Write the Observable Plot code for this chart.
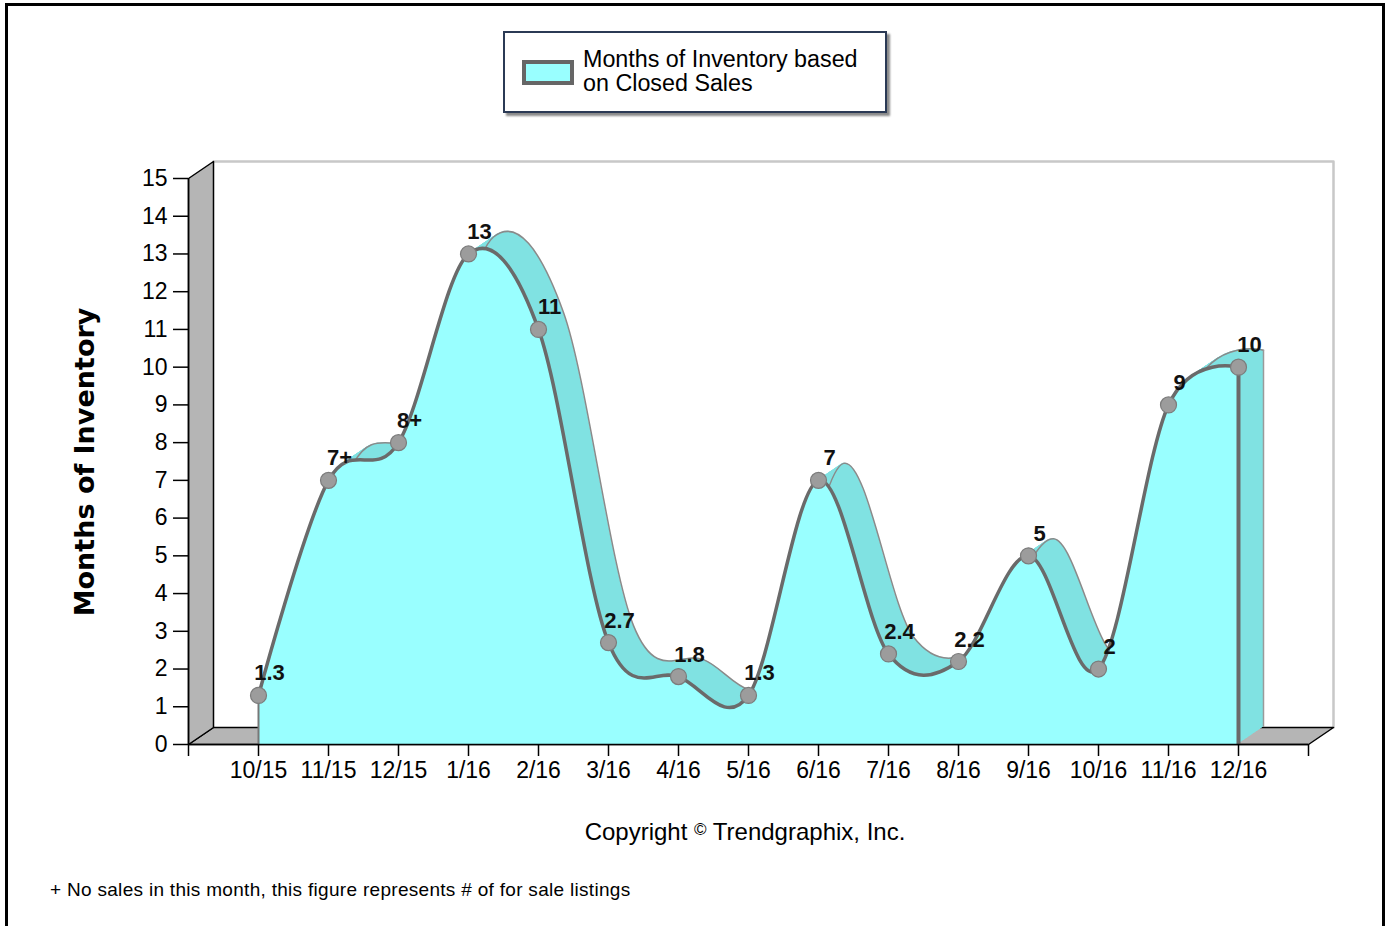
<!DOCTYPE html>
<html>
<head>
<meta charset="utf-8">
<script src="https://cdn.jsdelivr.net/npm/d3@7"></script>
<script src="https://cdn.jsdelivr.net/npm/@observablehq/plot@0.6"></script>
<style>
  html, body { margin: 0; padding: 0; background: #fff; }
  #wrap { position: relative; width: 1385px; height: 926px; overflow: hidden; background: #fff; font-family: "Liberation Sans", Arial, sans-serif; color: #000; }
  #chart { position: absolute; left: 0; top: 0; }
  .abs { position: absolute; white-space: nowrap; }
  #frame { position: absolute; left: 5px; top: 3px; width: 1380px; height: 940px; box-sizing: border-box; border: 3px solid #000; border-bottom: none; pointer-events: none; }
  #legend { left: 503px; top: 31px; width: 384px; height: 82px; box-sizing: border-box; border: 2px solid #2b3a55; box-shadow: 3px 3px 2px #8a8a8a; background: #fff; }
  #swatch { left: 522px; top: 60px; width: 52px; height: 25px; box-sizing: border-box; border: 4px solid #666; background: #99FFFF; }
  #legtext { left: 583px; top: 47px; font-size: 23.3px; line-height: 24px; }
  #ytitle { left: 84px; top: 462px; transform: translate(-50%, -50%) rotate(-90deg); font: bold 27px "DejaVu Sans", Verdana, sans-serif; }
  #copy { left: 745px; top: 818px; transform: translateX(-50%); font-size: 24px; line-height: 24px; }
  #note { left: 50px; top: 880px; font-size: 19px; line-height: 19px; letter-spacing: 0.3px; }
</style>
</head>
<body>
<div id="wrap">
  <div id="chart"></div>
  <div id="legend" class="abs"></div>
  <div id="swatch" class="abs"></div>
  <div id="legtext" class="abs">Months of Inventory based<br>on Closed Sales</div>
  <div id="ytitle" class="abs">Months of Inventory</div>
  <div id="copy" class="abs">Copyright <span style="font-size:17px;vertical-align:5px">©</span> Trendgraphix, Inc.</div>
  <div id="note" class="abs">+ No sales in this month, this figure represents # of for sale listings</div>
  <div id="frame"></div>
</div>
<script>
// ---- data ----
const months = ["10/15","11/15","12/15","1/16","2/16","3/16","4/16","5/16","6/16","7/16","8/16","9/16","10/16","11/16","12/16"];
const values = [1.3, 7, 8, 13, 11, 2.7, 1.8, 1.3, 7, 2.4, 2.2, 5, 2, 9, 10];
const pointLabels = ["1.3","7+","8+","13","11","2.7","1.8","1.3","7","2.4","2.2","5","2","9","10"];
const yTicks = [0,1,2,3,4,5,6,7,8,9,10,11,12,13,14,15];

const data = months.map((m, i) => ({i, m, v: values[i], label: pointLabels[i]}));

// ---- layout / style ----
const W = 1385, H = 926;
const mL = 188, mR = 77, mT = 178, mB = 182;
const xDom = [-1, 15], yDom = [0, 15];
const depthX = 25, depthY = 17; // 3D depth in px
const xUnit = (W - mL - mR) / (xDom[1] - xDom[0]);
const yUnit = (H - mT - mB) / (yDom[1] - yDom[0]);
const dX = depthX / xUnit, dY = depthY / yUnit;

const x0 = xDom[0], x1 = xDom[1], yTop = yDom[1];
const leftWall = [
  {x: x0, y: 0}, {x: x0 + dX, y: dY}, {x: x0 + dX, y: yTop + dY}, {x: x0, y: yTop}, {x: x0, y: 0}
];
const floor = [
  {x: x0, y: 0}, {x: x1, y: 0}, {x: x1 + dX, y: dY}, {x: x0 + dX, y: dY}, {x: x0, y: 0}
];
const backTop = [{x: x0 + dX, y: yTop + dY}, {x: x1 + dX, y: yTop + dY}, {x: x1 + dX, y: dY}];

const curve = "cardinal";
const ribbonSteps = d3.range(1, 26).map(k => k / 25);
const last = data[data.length - 1];
const first = data[0];

const marks = [
  Plot.line(backTop, {x: "x", y: "y", stroke: "#c8c8c8", strokeWidth: 2.5}),
  Plot.line(floor, {x: "x", y: "y", fill: "#b5b5b5", stroke: "#000", strokeWidth: 1.5}),
  Plot.line(leftWall, {x: "x", y: "y", fill: "#b5b5b5", stroke: "#000", strokeWidth: 1.5}),
  // 3D ribbon
  ...ribbonSteps.map(t => Plot.areaY(data, {x: "i", y: "v", curve, fill: "#80E2E2", dx: depthX * t, dy: -depthY * t})),
  Plot.line(data, {x: "i", y: "v", curve, stroke: "#8a8a8a", strokeWidth: 1.5, dx: depthX, dy: -depthY}),
  Plot.ruleX([last], {x: "i", y1: 0, y2: "v", stroke: "#9a9a9a", strokeWidth: 1.5, dx: depthX, dy: -depthY}),
  // front face
  Plot.areaY(data, {x: "i", y: "v", curve, fill: "#99FFFF"}),
  Plot.ruleX([first], {x: "i", y1: 0, y2: "v", stroke: "#777", strokeWidth: 2}),
  Plot.ruleX([last], {x: "i", y1: 0, y2: "v", stroke: "#6a6a6a", strokeWidth: 4}),
  Plot.ruleY([0], {x1: x0, x2: x1, stroke: "#000", strokeWidth: 1.5}),
  Plot.ruleX([x0], {y1: 0, y2: yTop, stroke: "#000", strokeWidth: 1.5}),
  Plot.line(data, {x: "i", y: "v", curve, stroke: "#6a6a6a", strokeWidth: 3.5}),
  Plot.dot(data, {x: "i", y: "v", r: 8, fill: "#9c9c9c", stroke: "#7c7c7c", strokeWidth: 1.2}),
  Plot.text(data, {x: "i", y: "v", text: "label", dx: 11, dy: -22, fontSize: 22, fontWeight: "bold", fill: "#111", fontFamily: "Liberation Sans, Arial, sans-serif"}),
  Plot.axisY({ticks: yTicks, tickSize: 15, tickPadding: 6, fontSize: 23, strokeWidth: 1.5, label: null, fontFamily: "Liberation Sans, Arial, sans-serif"}),
  Plot.axisX({ticks: d3.range(-1, 16), tickFormat: d => months[d] ?? "", tickSize: 12, tickPadding: 5, fontSize: 23, strokeWidth: 1.5, label: null, fontFamily: "Liberation Sans, Arial, sans-serif"})
];

const chart = Plot.plot({
  width: W, height: H,
  marginLeft: mL, marginRight: mR, marginTop: mT, marginBottom: mB,
  x: {domain: xDom, axis: null},
  y: {domain: yDom, axis: null},
  style: {background: "transparent", overflow: "visible", fontFamily: "Liberation Sans, Arial, sans-serif", color: "#000"},
  marks
});
document.getElementById("chart").appendChild(chart);
</script>
</body>
</html>
